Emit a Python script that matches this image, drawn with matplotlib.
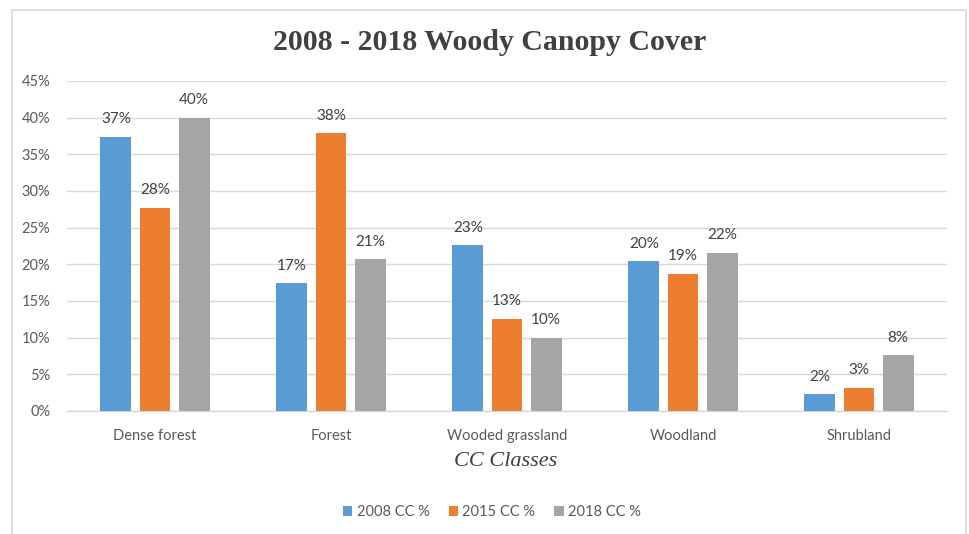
import matplotlib
matplotlib.use("Agg")
import matplotlib.pyplot as plt
from matplotlib.patches import Rectangle
import numpy as np

categories = ["Dense forest", "Forest", "Wooded grassland", "Woodland", "Shrubland"]
series_names = ["2008 CC %", "2015 CC %", "2018 CC %"]
cc_2008 = [37.4, 17.4, 22.6, 20.4, 2.3]
cc_2015 = [27.7, 37.9, 12.6, 18.7, 3.2]
cc_2018 = [40.0, 20.7, 10.0, 21.6, 7.6]
y_ticks = [0, 5, 10, 15, 20, 25, 30, 35, 40, 45]
colors = ["#5B9BD5", "#ED7D31", "#A5A5A5"]

sans = ["Lato", "DejaVu Sans"]
serif = ["Liberation Serif", "DejaVu Serif"]

W, H = 969, 534
fig = plt.figure(figsize=(W / 100, H / 100), dpi=100)
fig.patch.set_facecolor("white")

# chart-area border
fig.patches.append(Rectangle((12 / W, -0.05), (966 - 12) / W, 1.05 - 10 / H,
                             transform=fig.transFigure, fill=False,
                             edgecolor="#d9d9d9", linewidth=1.2))

ax = fig.add_axes([67 / W, 1 - 411 / H, (947 - 67) / W, (411 - 81) / H])

x = np.arange(len(categories))
width = 0.176
step = 0.222
all_series = [cc_2008, cc_2015, cc_2018]
for i, (vals, name, col) in enumerate(zip(all_series, series_names, colors)):
    pos = x + (i - 1) * step
    bars = ax.bar(pos, vals, width=width, color=col, label=name, zorder=3)
    for b, v in zip(bars, vals):
        ax.annotate(f"{int(round(v))}%", (b.get_x() + b.get_width() / 2, v),
                    xytext=(0, 7.5), textcoords="offset points",
                    ha="center", va="bottom", fontsize=11,
                    color="#404040", family=sans)

ax.set_xlim(-0.5, len(categories) - 0.5)
ax.set_ylim(0, 45)
ax.set_yticks(y_ticks)
ax.set_yticklabels([f"{t}%" for t in y_ticks], family=sans, fontsize=10.5, color="#595959")
ax.set_xticks(x)
ax.set_xticklabels(categories, family=sans, fontsize=10.5, color="#595959")
ax.tick_params(axis="both", length=0)
ax.tick_params(axis="x", pad=13)
ax.tick_params(axis="y", pad=12)
ax.grid(axis="y", color="#d9d9d9", linewidth=1, zorder=0)
for s in ["top", "right", "left"]:
    ax.spines[s].set_visible(False)
ax.spines["bottom"].set_color("#d9d9d9")
ax.spines["bottom"].set_linewidth(1)

fig.text(490 / W, 1 - 43 / H, "2008 - 2018 Woody Canopy Cover", ha="center", va="center",
         family=serif, fontweight="bold", fontsize=21.5, color="#404040")
fig.text(506 / W, 1 - 462 / H, "CC Classes", ha="center", va="center",
         family=serif, style="italic", fontsize=16, color="#404040")

leg = fig.legend(loc="center", bbox_to_anchor=(492 / W, 1 - 512 / H), ncol=3,
                 frameon=False, handlelength=0.65, handleheight=0.65,
                 handletextpad=0.3, columnspacing=1.3,
                 prop={"family": sans, "size": 10.5})
for t in leg.get_texts():
    t.set_color("#595959")

fig.savefig("out.png", dpi=100, facecolor="white")
